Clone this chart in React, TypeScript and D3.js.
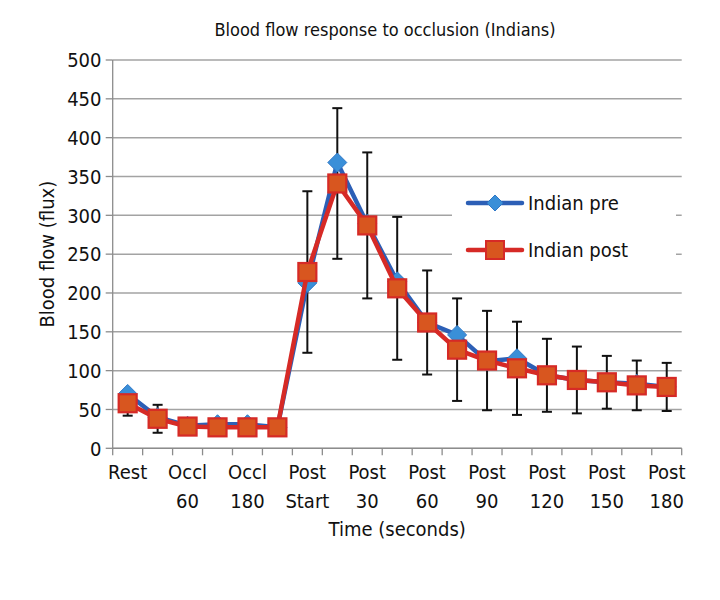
import React from "react";
import * as d3 from "d3";

const line1 = ["Rest", "", "Occl", "", "Occl", "", "Post", "", "Post", "", "Post", "", "Post", "", "Post", "", "Post", "", "Post"];
const line2 = ["", "", "60", "", "180", "", "Start", "", "30", "", "60", "", "90", "", "120", "", "150", "", "180"];
const preValues = [70, 40, 29, 31, 31, 27, 213, 368, 289, 215, 162, 146, 112, 116, 94, 88, 85, 83, 79];
const postValues = [58, 38, 28, 27, 27, 27, 227, 341, 287, 206, 162, 127, 113, 103, 94, 88, 85, 81, 79];
const postErrors = [16, 18, 4, 3, 3, 3, 104, 97, 94, 92, 67, 66, 64, 60, 47, 43, 34, 32, 31];
const yTicks = [0, 50, 100, 150, 200, 250, 300, 350, 400, 450, 500];
const seriesNames = ["Indian pre", "Indian post"];

const FONT = "'Liberation Sans Narrow', 'DejaVu Sans Condensed', 'Arial Narrow', sans-serif";

export default function App() {
  const W = 720, H = 600;
  const x0 = 112.7, x1 = 681.7, yB = 448.3, yT = 60;
  const idx = preValues.map((_, i) => i);
  const x = d3.scaleBand<number>().domain(idx).range([x0, x1]).padding(0);
  const y = d3.scaleLinear().domain([0, 500]).range([yB, yT]);
  const cx = (i: number) => (x(i) as number) + x.bandwidth() / 2;
  const line = d3.line<number>().x((_, i) => cx(i)).y((v) => y(v));

  const blueLine = "#2c5fb6";
  const blueFill = "#3a8fd8";
  const redLine = "#d62a26";
  const redFill = "#d8561f";
  const diamond = (px: number, py: number, r: number) =>
    `M${px},${py - r}L${px + r},${py}L${px},${py + r}L${px - r},${py}Z`;

  const boundaries = d3.range(idx.length + 1).map((i) => x0 + i * x.bandwidth());

  return (
    <svg width={W} height={H} style={{ position: "absolute", left: 0, top: 0, background: "#fff" }} fontFamily={FONT}>
      <rect x={0} y={0} width={W} height={H} fill="#fff" />
      <text x={385} y={36} textAnchor="middle" fontSize={18} fill="#111">
        Blood flow response to occlusion (Indians)
      </text>
      {/* gridlines */}
      {yTicks.map((t) => (
        <line key={"g" + t} x1={x0} x2={x1} y1={y(t)} y2={y(t)} stroke="#a3a3a3" strokeWidth={1.5} />
      ))}
      {/* y axis */}
      <line x1={x0} x2={x0} y1={yT} y2={yB} stroke="#8c8c8c" strokeWidth={1.3} />
      {yTicks.map((t) => (
        <g key={"yt" + t}>
          <line x1={x0 - 7} x2={x0} y1={y(t)} y2={y(t)} stroke="#8c8c8c" strokeWidth={1.3} />
          <text x={101.5} y={y(t)} dy="0.36em" textAnchor="end" fontSize={20} fill="#111">
            {t}
          </text>
        </g>
      ))}
      {/* x axis */}
      <line x1={x0} x2={x1} y1={yB} y2={yB} stroke="#8c8c8c" strokeWidth={1.3} />
      {boundaries.map((b, i) => (
        <line key={"xt" + i} x1={b} x2={b} y1={yB} y2={yB + 7} stroke="#8c8c8c" strokeWidth={1.3} />
      ))}
      {idx.map((i) => (
        <g key={"xl" + i}>
          {line1[i] && (
            <text x={cx(i)} y={479} textAnchor="middle" fontSize={20} fill="#111">
              {line1[i]}
            </text>
          )}
          {line2[i] && (
            <text x={cx(i)} y={508} textAnchor="middle" fontSize={20} fill="#111">
              {line2[i]}
            </text>
          )}
        </g>
      ))}
      <text x={(x0 + x1) / 2} y={536} textAnchor="middle" fontSize={20} fill="#111">
        Time (seconds)
      </text>
      <text transform={`translate(47,${(yT + yB) / 2}) rotate(-90)`} textAnchor="middle" fontSize={20} fill="#111" dy="0.36em">
        Blood flow (flux)
      </text>

      {/* error bars */}
      {idx.map((i) => {
        const px = cx(i);
        const hi = y(postValues[i] + postErrors[i]);
        const lo = y(postValues[i] - postErrors[i]);
        return (
          <g key={"e" + i} stroke="#111" strokeWidth={2}>
            <line x1={px} x2={px} y1={hi} y2={lo} />
            <line x1={px - 5} x2={px + 5} y1={hi} y2={hi} />
            <line x1={px - 5} x2={px + 5} y1={lo} y2={lo} />
          </g>
        );
      })}

      {/* pre series */}
      <path d={line(preValues) || ""} fill="none" stroke={blueLine} strokeWidth={4.5} strokeLinejoin="round" />
      {preValues.map((v, i) => (
        <path key={"d" + i} d={diamond(cx(i), y(v), 9.5)} fill={blueFill} stroke="#2f78c8" strokeWidth={1} />
      ))}
      {/* post series */}
      <path d={line(postValues) || ""} fill="none" stroke={redLine} strokeWidth={4.5} strokeLinejoin="round" />
      {postValues.map((v, i) => (
        <rect key={"s" + i} x={cx(i) - 9} y={y(v) - 9} width={18} height={18} fill={redFill} stroke={redLine} strokeWidth={2.2} />
      ))}

      {/* legend */}
      <rect x={452} y={181} width={224} height={90} fill="#fff" />
      <line x1={468} x2={522} y1={203} y2={203} stroke={blueLine} strokeWidth={4.5} strokeLinecap="round" />
      <path d={diamond(495, 203, 8)} fill={blueFill} stroke="#2f78c8" strokeWidth={1} />
      <text x={528} y={210} fontSize={20} fill="#111">{seriesNames[0]}</text>
      <line x1={468} x2={522} y1={250} y2={250} stroke={redLine} strokeWidth={4.5} strokeLinecap="round" />
      <rect x={486} y={241} width={18} height={18} fill={redFill} stroke={redLine} strokeWidth={2} />
      <text x={528} y={257} fontSize={20} fill="#111">{seriesNames[1]}</text>
    </svg>
  );
}
